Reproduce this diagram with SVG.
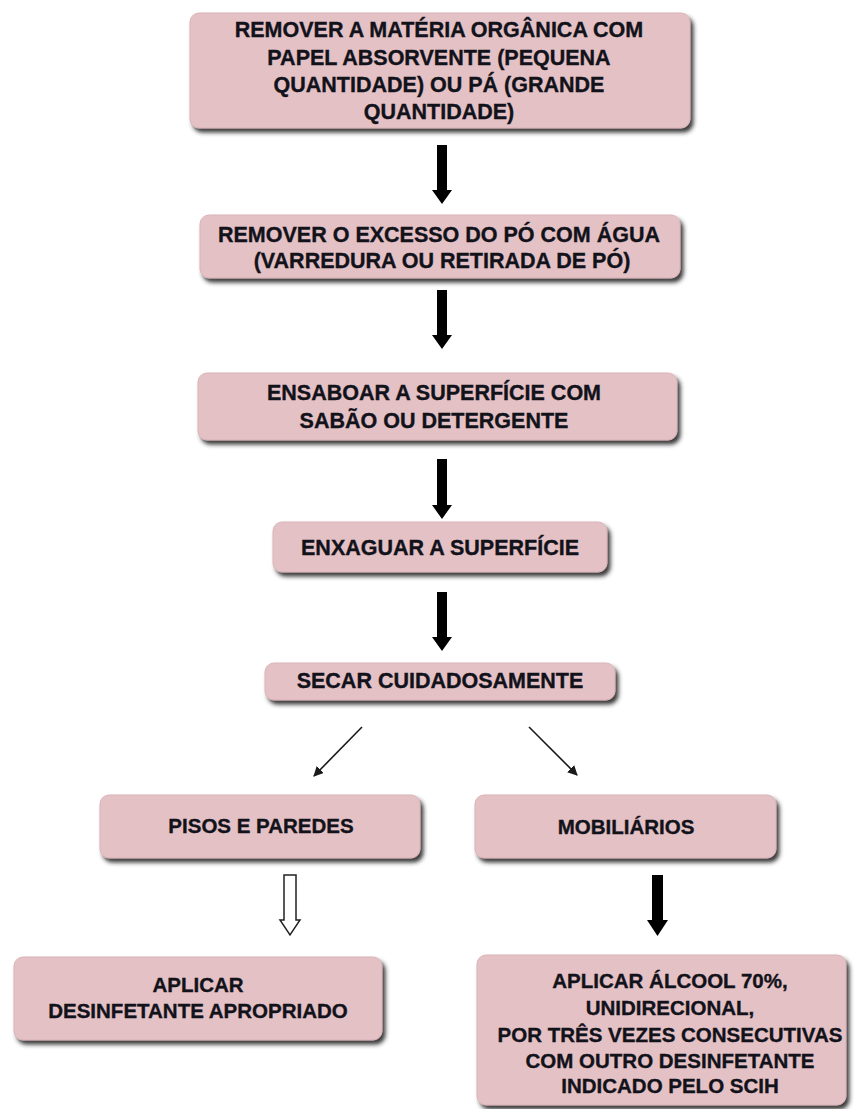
<svg xmlns="http://www.w3.org/2000/svg" width="857" height="1109" viewBox="0 0 857 1109">
<defs>
<filter id="sh" x="-10%" y="-20%" width="125%" height="150%">
<feDropShadow dx="3" dy="4" stdDeviation="2" flood-color="#222" flood-opacity="0.9"/>
</filter>
<marker id="ah" viewBox="0 0 10 10" refX="9" refY="5" markerWidth="10" markerHeight="10" markerUnits="userSpaceOnUse" orient="auto">
<path d="M0,0 L10,5 L0,10 Z" fill="#1a1a1a"/>
</marker>
</defs>
<style>
.box{fill:#e4c1c5;stroke:#d9b3b8;stroke-width:1;filter:url(#sh)}
.t{font-family:"Liberation Sans",Arial,sans-serif;font-weight:bold;font-size:21.5px;fill:#12121a;stroke:#12121a;stroke-width:0.35;text-anchor:middle}
.s{font-size:20.5px}
.blk{fill:#000}
.hol{fill:#fff;stroke:#222;stroke-width:1.5}
.thin{stroke:#1a1a1a;stroke-width:1.6;fill:none;marker-end:url(#ah)}
</style>
<rect width="857" height="1109" fill="#fff"/>

<g id="n1">
<rect class="box" x="190" y="13" width="500" height="115" rx="9"/>
<text class="t" x="439" y="37">REMOVER A MATÉRIA ORGÂNICA COM</text>
<text class="t" x="439" y="65">PAPEL ABSORVENTE (PEQUENA</text>
<text class="t" x="439" y="92">QUANTIDADE) OU PÁ (GRANDE</text>
<text class="t" x="439" y="119">QUANTIDADE)</text>
</g>

<g id="n2">
<rect class="box" x="200" y="215" width="480" height="63" rx="9"/>
<text class="t" x="439" y="242">REMOVER O EXCESSO DO PÓ COM ÁGUA</text>
<text class="t" x="442" y="268">(VARREDURA OU RETIRADA DE PÓ)</text>
</g>

<g id="n3">
<rect class="box" x="198" y="373" width="479" height="67" rx="9"/>
<text class="t" x="434" y="400">ENSABOAR A SUPERFÍCIE COM</text>
<text class="t" x="434" y="428">SABÃO OU DETERGENTE</text>
</g>

<g id="n4">
<rect class="box" x="273" y="522" width="334" height="50" rx="9"/>
<text class="t" x="440" y="555">ENXAGUAR A SUPERFÍCIE</text>
</g>

<g id="n5">
<rect class="box" x="265" y="663" width="350" height="37" rx="9"/>
<text class="t" x="440" y="688">SECAR CUIDADOSAMENTE</text>
</g>

<g id="n6">
<rect class="box" x="100" y="795" width="320" height="63" rx="9"/>
<text class="t s" x="261" y="833">PISOS E PAREDES</text>
</g>

<g id="n7">
<rect class="box" x="475" y="795" width="301" height="63" rx="9"/>
<text class="t s" x="626" y="834">MOBILIÁRIOS</text>
</g>

<g id="n8">
<rect class="box" x="14" y="957" width="368" height="83" rx="9"/>
<text class="t s" x="198" y="992">APLICAR</text>
<text class="t s" x="198" y="1018">DESINFETANTE APROPRIADO</text>
</g>

<g id="n9">
<rect class="box" x="477" y="955" width="369" height="150" rx="9"/>
<text class="t s" x="670" y="988">APLICAR ÁLCOOL 70%,</text>
<text class="t s" x="670" y="1015">UNIDIRECIONAL,</text>
<text class="t s" x="670" y="1042">POR TRÊS VEZES CONSECUTIVAS</text>
<text class="t s" x="670" y="1068">COM OUTRO DESINFETANTE</text>
<text class="t s" x="670" y="1093">INDICADO PELO SCIH</text>
</g>

<g id="connectors">
<path class="blk" d="M437,145 H447 V190 H452 L442,204 L432,190 H437 Z"/>
<path class="blk" d="M437,290 H447 V335 H452 L442,349 L432,335 H437 Z"/>
<path class="blk" d="M437,459 H447 V505 H452 L442,519 L432,505 H437 Z"/>
<path class="blk" d="M437,592 H447 V637 H452 L442,651 L432,637 H437 Z"/>
<line class="thin" x1="362" y1="727" x2="314" y2="776"/>
<line class="thin" x1="529" y1="727" x2="577" y2="775"/>
<path class="hol" d="M284,875 H296 V920 H300 L290,935 L280,920 H284 Z"/>
<path class="blk" d="M652,875 H663 V920 H668 L657.5,936 L647,920 H652 Z"/>
</g>
</svg>
